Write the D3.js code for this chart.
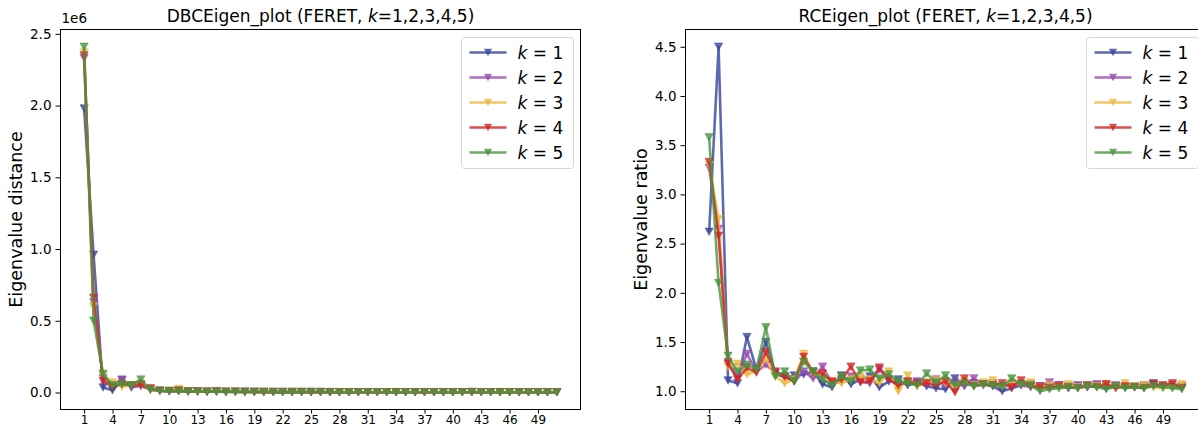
<!DOCTYPE html>
<html>
<head>
<meta charset="utf-8">
<script src="https://cdn.jsdelivr.net/npm/d3@7"></script>
<style>
  html, body { margin: 0; padding: 0; background: #fff; }
  svg { display: block; font-family: "DejaVu Sans", sans-serif; }
</style>
</head>
<body>
<svg id="chart" width="1198" height="425"></svg>
<script>
// Eigenvalue index (x axis) for both panels
const eigIndex = d3.range(1, 52);
const xTickValues = d3.range(1, 50, 3);

// Series labels and colours (k = 1..5)
const kLabels = ["1", "2", "3", "4", "5"];
const kColors = ["#37449b", "#9b48ad", "#edb83d", "#d02525", "#49953d"];

// DBCEigen: eigenvalue distance, in units of 1e6
const dbcK1 = [1.98, 0.96, 0.035, 0.016, 0.085, 0.035, 0.05, 0.02, 0.012, 0.008, 0.011, 0.006, 0.007, 0.005, 0.006, 0.004, 0.005, 0.004, 0.004, 0.003, 0.004, 0.003, 0.003, 0.003, 0.003, 0.002, 0.003, 0.002, 0.002, 0.002, 0.002, 0.002, 0.002, 0.002, 0.002, 0.002, 0.002, 0.002, 0.002, 0.002, 0.002, 0.002, 0.002, 0.002, 0.002, 0.002, 0.002, 0.002, 0.002, 0.002, 0.002];
const dbcK2 = [2.33, 0.63, 0.10, 0.05, 0.09, 0.04, 0.045, 0.02, 0.012, 0.01, 0.009, 0.008, 0.006, 0.006, 0.005, 0.005, 0.004, 0.006, 0.004, 0.003, 0.003, 0.003, 0.003, 0.003, 0.003, 0.003, 0.002, 0.002, 0.002, 0.002, 0.002, 0.002, 0.002, 0.002, 0.002, 0.002, 0.002, 0.002, 0.002, 0.002, 0.002, 0.002, 0.002, 0.002, 0.002, 0.002, 0.002, 0.002, 0.002, 0.002, 0.002];
const dbcK3 = [2.37, 0.60, 0.12, 0.07, 0.04, 0.05, 0.06, 0.02, 0.01, 0.012, 0.025, 0.008, 0.007, 0.006, 0.006, 0.005, 0.005, 0.004, 0.004, 0.004, 0.003, 0.003, 0.003, 0.003, 0.003, 0.003, 0.002, 0.002, 0.002, 0.002, 0.002, 0.002, 0.002, 0.002, 0.002, 0.002, 0.002, 0.002, 0.002, 0.002, 0.002, 0.002, 0.002, 0.002, 0.002, 0.002, 0.002, 0.002, 0.002, 0.002, 0.002];
const dbcK4 = [2.35, 0.66, 0.08, 0.04, 0.06, 0.05, 0.055, 0.03, 0.012, 0.01, 0.014, 0.008, 0.007, 0.006, 0.008, 0.005, 0.006, 0.004, 0.004, 0.004, 0.003, 0.003, 0.003, 0.003, 0.003, 0.003, 0.002, 0.002, 0.002, 0.002, 0.002, 0.002, 0.002, 0.002, 0.002, 0.002, 0.002, 0.002, 0.002, 0.002, 0.002, 0.004, 0.002, 0.002, 0.002, 0.002, 0.002, 0.002, 0.002, 0.002, 0.002];
const dbcK5 = [2.41, 0.50, 0.13, 0.05, 0.06, 0.05, 0.09, 0.02, 0.012, 0.01, 0.01, 0.008, 0.007, 0.006, 0.006, 0.005, 0.005, 0.004, 0.004, 0.004, 0.003, 0.003, 0.003, 0.003, 0.003, 0.003, 0.002, 0.002, 0.002, 0.002, 0.002, 0.002, 0.002, 0.002, 0.002, 0.002, 0.002, 0.002, 0.002, 0.002, 0.002, 0.002, 0.002, 0.002, 0.002, 0.002, 0.002, 0.002, 0.002, 0.002, 0.002];

// RCEigen: eigenvalue ratio
const rcK1 = [2.62, 4.50, 1.11, 1.08, 1.55, 1.22, 1.50, 1.18, 1.14, 1.16, 1.17, 1.20, 1.07, 1.04, 1.16, 1.07, 1.12, 1.15, 1.04, 1.10, 1.12, 1.06, 1.09, 1.05, 1.03, 1.02, 1.13, 1.06, 1.08, 1.07, 1.05, 1.00, 1.03, 1.06, 1.07, 1.05, 1.04, 1.06, 1.03, 1.05, 1.04, 1.06, 1.03, 1.05, 1.04, 1.04, 1.05, 1.08, 1.04, 1.06, 1.04];
const rcK2 = [3.27, 2.65, 1.30, 1.14, 1.38, 1.20, 1.27, 1.19, 1.15, 1.10, 1.20, 1.13, 1.25, 1.08, 1.10, 1.15, 1.10, 1.08, 1.22, 1.12, 1.06, 1.09, 1.10, 1.08, 1.12, 1.06, 1.09, 1.05, 1.13, 1.06, 1.08, 1.05, 1.07, 1.06, 1.04, 1.05, 1.09, 1.06, 1.05, 1.06, 1.04, 1.07, 1.05, 1.06, 1.04, 1.05, 1.06, 1.06, 1.05, 1.04, 1.05];
const rcK3 = [3.30, 2.75, 1.25, 1.28, 1.17, 1.20, 1.33, 1.15, 1.08, 1.12, 1.38, 1.18, 1.15, 1.10, 1.08, 1.12, 1.15, 1.12, 1.08, 1.20, 1.00, 1.16, 1.05, 1.09, 1.11, 1.08, 1.05, 1.10, 1.06, 1.09, 1.11, 1.05, 1.07, 1.08, 1.09, 1.04, 1.06, 1.05, 1.07, 1.04, 1.06, 1.05, 1.07, 1.04, 1.08, 1.05, 1.06, 1.04, 1.03, 1.05, 1.07];
const rcK4 = [3.33, 2.58, 1.28, 1.12, 1.24, 1.19, 1.40, 1.20, 1.15, 1.10, 1.35, 1.19, 1.18, 1.10, 1.12, 1.25, 1.09, 1.10, 1.24, 1.12, 1.06, 1.10, 1.07, 1.08, 1.06, 1.10, 0.99, 1.13, 1.05, 1.07, 1.06, 1.08, 1.04, 1.11, 1.05, 1.04, 1.03, 1.05, 1.04, 1.03, 1.06, 1.04, 1.07, 1.03, 1.05, 1.04, 1.03, 1.07, 1.06, 1.08, 1.03];
const rcK5 = [3.58, 2.10, 1.36, 1.20, 1.27, 1.22, 1.65, 1.15, 1.20, 1.10, 1.30, 1.20, 1.12, 1.06, 1.15, 1.10, 1.21, 1.22, 1.13, 1.17, 1.10, 1.08, 1.06, 1.18, 1.09, 1.16, 1.06, 1.08, 1.05, 1.07, 1.06, 1.05, 1.13, 1.07, 1.06, 1.00, 1.02, 1.03, 1.04, 1.03, 1.05, 1.04, 1.02, 1.05, 1.03, 1.04, 1.03, 1.05, 1.04, 1.03, 1.02];

// Y ticks
const dbcTicks = [0, 0.5, 1.0, 1.5, 2.0, 2.5];
const rcTicks = [1.0, 1.5, 2.0, 2.5, 3.0, 3.5, 4.0, 4.5];

const svg = d3.select("#chart");
const LINE_ALPHA = 0.8;

// Downward-pointing triangle marker
function triDown(s) {
  const w = s * 0.55, h = s * 0.5;
  return `M${-w},${-h}L${w},${-h}L0,${h}Z`;
}

function kTitle(sel, prefix) {
  sel.append("tspan").text(prefix + "(FERET, ");
  sel.append("tspan").attr("font-style", "italic").text("k");
  sel.append("tspan").text("=1,2,3,4,5)");
}

function drawPanel(opts) {
  const { left, top, width, height, series, ticks, yLabel, title, offsetText } = opts;
  const g = svg.append("g");

  // 5% padding on both axes
  const xs = eigIndex;
  const xPad = (d3.max(xs) - d3.min(xs)) * 0.05;
  const x = d3.scaleLinear()
    .domain([d3.min(xs) - xPad, d3.max(xs) + xPad])
    .range([left, left + width]);
  const allY = series.flat();
  const yMin = d3.min(allY), yMax = d3.max(allY);
  const yPad = (yMax - yMin) * 0.05;
  const y = d3.scaleLinear()
    .domain([yMin - yPad, yMax + yPad])
    .range([top + height, top]);

  // Lines + markers
  const line = d3.line().x((d, i) => x(xs[i])).y(d => y(d));
  series.forEach((vals, si) => {
    const sg = g.append("g");
    sg.append("path")
      .attr("d", line(vals))
      .attr("fill", "none")
      .attr("stroke", kColors[si])
      .attr("stroke-width", 2.6)
      .attr("stroke-opacity", LINE_ALPHA)
      .attr("stroke-linejoin", "round");
    sg.selectAll("path.mk")
      .data(vals)
      .join("path")
      .attr("class", "mk")
      .attr("transform", (d, i) => `translate(${x(xs[i])},${y(d)})`)
      .attr("d", triDown(7.5))
      .attr("fill", kColors[si])
      .attr("fill-opacity", LINE_ALPHA)
      .attr("stroke", kColors[si])
      .attr("stroke-opacity", LINE_ALPHA * 0.6)
      .attr("stroke-width", 1);
  });

  // Frame
  g.append("rect")
    .attr("x", left).attr("y", top)
    .attr("width", width).attr("height", height)
    .attr("fill", "none").attr("stroke", "#000").attr("stroke-width", 1);

  // Axes
  const xAxis = d3.axisBottom(x).tickValues(xTickValues).tickSize(4).tickPadding(2)
    .tickFormat(d3.format("d"));
  const gx = g.append("g").attr("transform", `translate(0,${top + height})`).call(xAxis);
  const yAxis = d3.axisLeft(y).tickValues(ticks).tickSize(5).tickPadding(4)
    .tickFormat(d3.format(".1f"));
  const gy = g.append("g").attr("transform", `translate(${left},0)`).call(yAxis);
  [gx, gy].forEach(a => {
    a.select(".domain").remove();
    a.selectAll(".tick line").attr("stroke", "#000").attr("stroke-width", 1);
    a.selectAll(".tick text").attr("fill", "#000")
      .attr("font-family", "DejaVu Sans").attr("font-size", 13.5);
  });
  gx.selectAll(".tick text").attr("font-size", 12);

  // Axis label
  g.append("text")
    .attr("transform", `translate(${left - 38.5},${top + height / 2}) rotate(-90)`)
    .attr("text-anchor", "middle")
    .attr("font-size", 17.5)
    .attr("fill", "#000")
    .text(yLabel);

  // Title
  const t = g.append("text")
    .attr("x", left + width / 2).attr("y", top - 8)
    .attr("text-anchor", "middle")
    .attr("font-size", 17)
    .attr("fill", "#000");
  kTitle(t, title);

  if (offsetText) {
    g.append("text").attr("x", left + 1).attr("y", top - 7)
      .attr("font-size", 13.5).attr("fill", "#000").text(offsetText);
  }

  // Legend
  const lgW = 112, lgH = 131;
  const lgX = left + width - 7 - lgW, lgY = top + 8;
  const lg = g.append("g");
  lg.append("rect")
    .attr("x", lgX).attr("y", lgY).attr("width", lgW).attr("height", lgH)
    .attr("rx", 3).attr("fill", "#fff").attr("fill-opacity", 0.85)
    .attr("stroke", "#d6d6d6").attr("stroke-width", 1);
  kLabels.forEach((lab, i) => {
    const cy = lgY + 15 + i * 25;
    lg.append("line")
      .attr("x1", lgX + 8).attr("x2", lgX + 45)
      .attr("y1", cy).attr("y2", cy)
      .attr("stroke", kColors[i]).attr("stroke-width", 2.6)
      .attr("stroke-opacity", LINE_ALPHA);
    lg.append("path")
      .attr("transform", `translate(${lgX + 26.5},${cy})`)
      .attr("d", triDown(7.5))
      .attr("fill", kColors[i]).attr("fill-opacity", LINE_ALPHA);
    const tx = lg.append("text")
      .attr("x", lgX + 56).attr("y", cy + 6)
      .attr("font-size", 17).attr("fill", "#000");
    tx.append("tspan").attr("font-style", "italic").text("k");
    tx.append("tspan").text(" = " + lab);
  });
}

drawPanel({
  left: 60.5, top: 29.5, width: 520, height: 380,
  series: [dbcK1, dbcK2, dbcK3, dbcK4, dbcK5],
  ticks: dbcTicks,
  yLabel: "Eigenvalue distance",
  title: "DBCEigen_plot ",
  offsetText: "1e6"
});

drawPanel({
  left: 685.5, top: 29.5, width: 520, height: 380,
  series: [rcK1, rcK2, rcK3, rcK4, rcK5],
  ticks: rcTicks,
  yLabel: "Eigenvalue ratio",
  title: "RCEigen_plot ",
  offsetText: null
});
</script>
</body>
</html>
